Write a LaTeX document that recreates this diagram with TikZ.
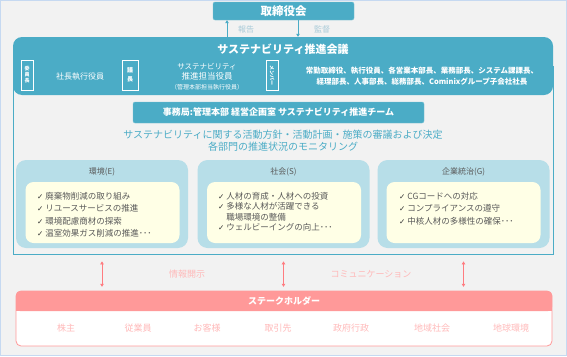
\documentclass[tikz,border=0pt]{standalone}
\usepackage{fontspec}
\setmainfont{Noto Sans CJK JP}
\newfontfamily\chkfont{DejaVu Sans}
\usetikzlibrary{arrows.meta}
\definecolor{cnaqua}{HTML}{4BACC6}
\definecolor{cnaqualt}{HTML}{B7DEE8}
\definecolor{cncream}{HTML}{FFFFE6}
\definecolor{cngray}{HTML}{595959}
\definecolor{cnsalmon}{HTML}{FF9999}
\definecolor{cnpink}{HTML}{FF7C80}
\definecolor{cnpinklt}{HTML}{FFB9B9}
\definecolor{cnbg}{HTML}{F2F2F2}
\definecolor{cnframe}{HTML}{C6D9F1}
\definecolor{cnlabel}{HTML}{A8CAD8}
\newcommand{\chk}{{\chkfont\fontsize{7.5}{6}\selectfont\color{black!80} ✓}}
\tikzset{
    headbox/.style={rectangle, rounded corners=2pt, fill=cnaqua, draw=cnaqua!75!white, text=white, align=center, inner sep=0pt},
    tagbox/.style={rectangle, draw=white, line width=0.6pt, text=white, minimum width=12pt, minimum height=30pt, inner sep=0pt, align=center, font=\fontsize{5}{6}\selectfont\bfseries},
    hdrtext/.style={text=white, align=center, inner sep=0pt},
    grpbox/.style={rectangle, rounded corners=10pt, fill=cnaqualt, minimum width=172pt, minimum height=88pt},
    listbox/.style={rectangle, rounded corners=8pt, fill=cncream, minimum width=154pt, minimum height=61pt},
    grptitle/.style={text=cngray, font=\fontsize{8}{9}\selectfont},
    itemlist/.style={anchor=west, text=cngray, align=left, inner sep=0pt},
    arrud/.style={-{Triangle[length=3pt, width=3.5pt]}, line width=0.7pt, cnaqua},
    arrsh/.style={{Triangle[length=3pt, width=3.5pt]}-{Triangle[length=3pt, width=3.5pt]}, line width=0.7pt, cnpink},
    flowlbl/.style={font=\fontsize{8}{9}\selectfont, text=cnlabel},
    shlbl/.style={font=\fontsize{9}{10}\selectfont, text=cnpinklt},
    shitem/.style={font=\fontsize{9}{10}\selectfont, text=cnpinklt}
}

\begin{document}
\begin{tikzpicture}[x=1pt, y=-1pt]
    \fill[cnbg, draw=cnframe] (0.5,0.5) rectangle (566.5,355.5);
    \useasboundingbox (0,0) rectangle (567,356);

    % board and council
    \node[headbox, minimum width=141pt, minimum height=18pt, font=\fontsize{11.5}{12}\selectfont\bfseries] (board) at (283.5,11) {取締役会};
    \node[draw=cnaqua, line width=0.8pt, minimum width=540pt, minimum height=188pt, inner sep=0pt] (council) at (283,160) {};
    \node[rectangle, rounded corners=9pt, fill=cnaqua, minimum width=540pt, minimum height=58pt, inner sep=0pt] (hdr) at (283,66) {};
    \node[hdrtext, font=\fontsize{11}{12}\selectfont\bfseries] (hdrtitle) at (283,49) {サステナビリティ推進会議};

    \coordinate (rep) at (227,0);
    \coordinate (sup) at (298,0);
    \draw[arrud] (hdr.north -| rep) -- (board.south -| rep);
    \draw[arrud] (board.south -| sup) -- (hdr.north -| sup);
    \node[flowlbl] (replbl) at (246,29) {報告};
    \node[flowlbl] (suplbl) at (322,29) {監督};

    % members row
    \node[tagbox] (chair) at (27,75) {委\\員\\長};
    \node[hdrtext, font=\fontsize{8}{9}\selectfont] (chairname) at (80,77) {社長執行役員};
    \node[tagbox, minimum width=16pt, font=\fontsize{6}{9}\selectfont\bfseries] (lead) at (130,75) {議\\長};
    \node[hdrtext, font=\fontsize{8.5}{10}\selectfont] (leadname) at (207,77) {{\fontsize{7.5}{10}\selectfont サステナビリティ}\\推進担当役員\\{\fontsize{6}{10}\selectfont （管理本部担当執行役員）}};
    \node[tagbox, rotate=-90, minimum width=30pt, minimum height=12pt] (memb) at (272,75) {メンバー};
    \node[hdrtext, font=\fontsize{7.5}{11}\selectfont\bfseries] (membname) at (422,76.5) {常勤取締役、執行役員、各営業本部長、業務部長、システム課課長、\\経理部長、人事部長、総務部長、Cominixグループ子会社社長};

    % office
    \node[headbox, minimum width=291pt, minimum height=21pt, font=\fontsize{9}{10}\selectfont\bfseries] (office) at (278.5,112.5) {事務局:管理本部 経営企画室 サステナビリティ推進チーム};
    \node[text=cnaqua, align=center, font=\fontsize{10}{12}\selectfont] (tasks) at (283,141) {サステナビリティに関する活動方針・活動計画・施策の審議および決定\\各部門の推進状況のモニタリング};

    % E S G
    \node[grpbox] (env) at (102,204) {};
    \node[grptitle] (envtitle) at (102,172) {環境(E)};
    \node[listbox] (envbox) at (102.5,212.5) {};
    \node[itemlist, font=\fontsize{8.5}{12.5}\selectfont] (envitems) at (37,215) {\chk\ 廃棄物削減の取り組み\\\chk\ リユースサービスの推進\\\chk\ 環境配慮商材の探索\\\chk\ 温室効果ガス削減の推進･･･};

    \node[grpbox] (soc) at (283.5,204) {};
    \node[grptitle] (soctitle) at (283.5,172) {社会(S)};
    \node[listbox] (socbox) at (284,212.5) {};
    \node[itemlist, font=\fontsize{8.5}{10.5}\selectfont] (socitems) at (218,212) {\chk\ 人材の育成・人材への投資\\\chk\ 多様な人材が活躍できる\\\phantom{\chk\ }職場環境の整備\\\chk\ ウェルビーイングの向上･･･};

    \node[grpbox] (gov) at (463.5,204) {};
    \node[grptitle] (govtitle) at (463.5,172) {企業統治(G)};
    \node[listbox] (govbox) at (463.5,212.5) {};
    \node[itemlist, font=\fontsize{8.5}{12.5}\selectfont] (govitems) at (399,208.5) {\chk\ CGコードへの対応\\\chk\ コンプライアンスの遵守\\\chk\ 中核人材の多様性の確保･･･};

    % stakeholders
    \node[rectangle, rounded corners=5pt, draw=cnsalmon, fill=white, line width=0.8pt, minimum width=536pt, minimum height=55pt] (shbody) at (284,318.5) {};
    \node[rectangle, rounded corners=4pt, fill=cnsalmon, minimum width=536pt, minimum height=20pt, inner sep=0pt] (shhead) at (284,301) {};
    \fill[cnsalmon] (shhead.west) rectangle (shhead.south east);
    \node[text=white, font=\fontsize{9}{10}\selectfont\bfseries] (shtitle) at (shhead) {ステークホルダー};

    \draw[arrsh, shorten <=7pt, shorten >=4pt] (council.south -| env.south) -- (shhead.north -| env.south);
    \draw[arrsh, shorten <=7pt, shorten >=4pt] (council.south -| soc.south) -- (shhead.north -| soc.south);
    \draw[arrsh, shorten <=7pt, shorten >=4pt] (council.south -| gov.south) -- (shhead.north -| gov.south);
    \node[shlbl] (dislbl) at (187,274) {情報開示};
    \node[shlbl] (comlbl) at (371,274) {コミュニケーション};

    \node[shitem] (sh1) at (66,328) {株主};
    \node[shitem] (sh2) at (138,328) {従業員};
    \node[shitem] (sh3) at (207,328) {お客様};
    \node[shitem] (sh4) at (278,328) {取引先};
    \node[shitem] (sh5) at (351,328) {政府行政};
    \node[shitem] (sh6) at (432,328) {地域社会};
    \node[shitem] (sh7) at (511,328) {地球環境};
\end{tikzpicture}
\end{document}
